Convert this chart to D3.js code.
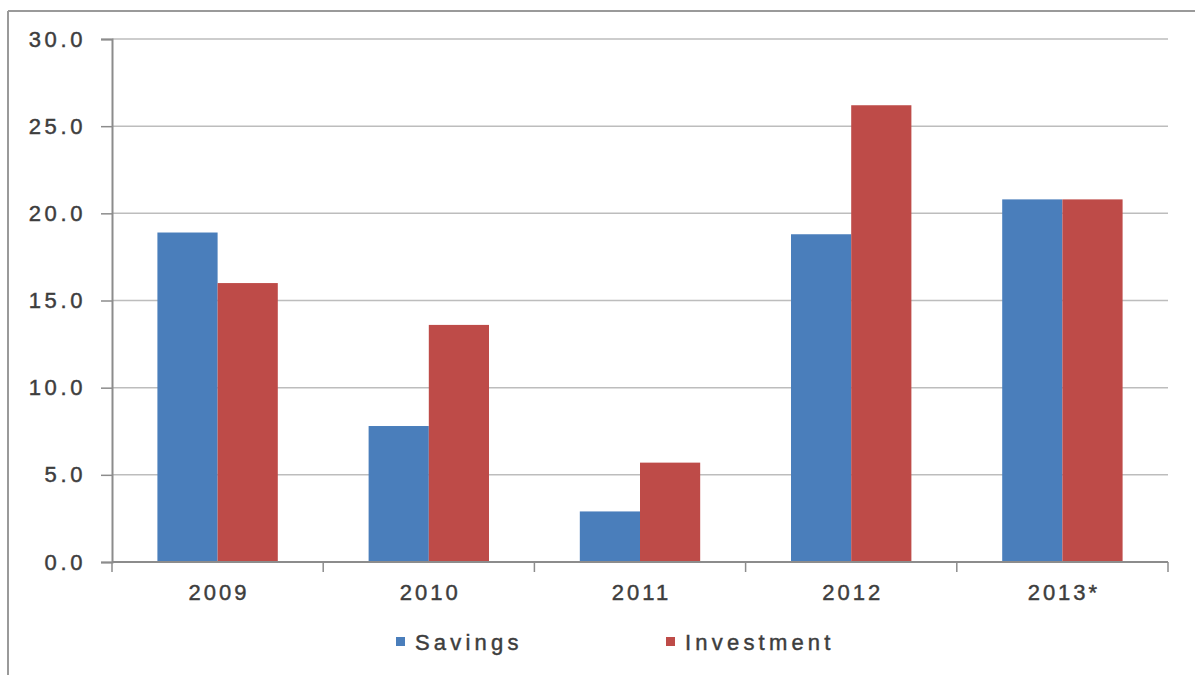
<!DOCTYPE html>
<html>
<head>
<meta charset="utf-8">
<script src="https://cdn.jsdelivr.net/npm/d3@7"></script>
<style>
  body { margin: 0; background: #fff; }
  text { font-family: "Liberation Sans", Arial, sans-serif; }
</style>
</head>
<body>
<svg id="chart"></svg>
<script>
const years = ['2009', '2010', '2011', '2012', '2013*'];
const seriesNames = ['Savings', 'Investment'];
const savings = [18.9, 7.8, 2.9, 18.8, 20.8];
const investment = [16.0, 13.6, 5.7, 26.2, 20.8];
const yTicks = [0, 5, 10, 15, 20, 25, 30];

const w = 1195;
const h = 675;
const margin = { top: 39, right: 27, bottom: 113, left: 112 };
const iw = w - margin.left - margin.right;
const ih = h - margin.top - margin.bottom;
const colors = ['#4a7ebb', '#be4b48'];
const textStyle = sel => sel
  .attr('font-size', 22)
  .attr('fill', '#3d3d3d')
  .attr('stroke', '#3d3d3d')
  .attr('stroke-width', 0.45)
  .attr('letter-spacing', 3);

const data = years.map((y, i) => ({ year: y, values: [savings[i], investment[i]] }));

const svg = d3.select('#chart')
  .attr('width', w)
  .attr('height', h);

// outer frame (only top and left visible in the crop)
svg.append('line').attr('x1', 8).attr('x2', w).attr('y1', 11).attr('y2', 11)
  .attr('stroke', '#9a9a9a').attr('stroke-width', 2);
svg.append('line').attr('x1', 8).attr('x2', 8).attr('y1', 11).attr('y2', h)
  .attr('stroke', '#9a9a9a').attr('stroke-width', 2);

const g = svg.append('g').attr('transform', `translate(${margin.left}, ${margin.top})`);

const x0 = d3.scaleBand().domain(years).range([0, iw]).paddingInner(0.43).paddingOuter(0.215);
const x1 = d3.scaleBand().domain(seriesNames).range([0, x0.bandwidth()]);
const y = d3.scaleLinear().domain([0, 30]).range([ih, 0]);

// gridlines
g.selectAll('.grid')
  .data(yTicks.filter(d => d > 0))
  .join('line')
  .attr('x1', 0).attr('x2', iw)
  .attr('y1', d => y(d)).attr('y2', d => y(d))
  .attr('stroke', '#bdbdbd').attr('stroke-width', 1.5);

// bars
const groups = g.selectAll('.grp')
  .data(data)
  .join('g')
  .attr('transform', d => `translate(${x0(d.year)}, 0)`);

groups.selectAll('rect')
  .data(d => d.values.map((v, i) => ({ name: seriesNames[i], v, i })))
  .join('rect')
  .attr('x', d => x1(d.name))
  .attr('y', d => y(d.v))
  .attr('width', x1.bandwidth())
  .attr('height', d => ih - y(d.v))
  .attr('fill', d => colors[d.i]);

// y axis
const yAxis = d3.axisLeft(y).tickValues(yTicks).tickFormat(d3.format('.1f')).tickSize(11).tickPadding(15);
const ya = g.append('g').call(yAxis);
ya.select('.domain').attr('stroke', '#8c8c8c').attr('stroke-width', 2);
ya.selectAll('.tick line').attr('stroke', '#8c8c8c').attr('stroke-width', 1.5);
ya.selectAll('.tick text')
  .attr('font-family', '"Liberation Sans", Arial, sans-serif')
  .call(textStyle)
  .attr('letter-spacing', 3.6);

// x axis with boundary ticks
const xa = g.append('g').attr('transform', `translate(0, ${ih})`);
xa.append('line').attr('x1', 0).attr('x2', iw).attr('stroke', '#8c8c8c').attr('stroke-width', 2);
const bounds = years.map(d => x0(d) - x0.step() * x0.paddingInner() / 2).concat([iw]);
xa.selectAll('.xt')
  .data(bounds)
  .join('line')
  .attr('x1', d => d).attr('x2', d => d)
  .attr('y1', 0).attr('y2', 10)
  .attr('stroke', '#8c8c8c').attr('stroke-width', 1.5);
xa.selectAll('.xl')
  .data(years)
  .join('text')
  .attr('x', d => x0(d) + x0.bandwidth() / 2 + 1.5)
  .attr('y', 38)
  .attr('text-anchor', 'middle')
  .call(textStyle)
  .text(d => d);

// legend
const legend = svg.append('g').attr('transform', 'translate(0, 642)');
const legX = [396, 666];
seriesNames.forEach((name, i) => {
  legend.append('rect')
    .attr('x', legX[i]).attr('y', -5)
    .attr('width', 9).attr('height', 9)
    .attr('fill', colors[i]);
  legend.append('text')
    .attr('x', legX[i] + 19).attr('y', 8)
    .call(textStyle)
    .attr('letter-spacing', 4.2)
    .text(name);
});
</script>
</body>
</html>
